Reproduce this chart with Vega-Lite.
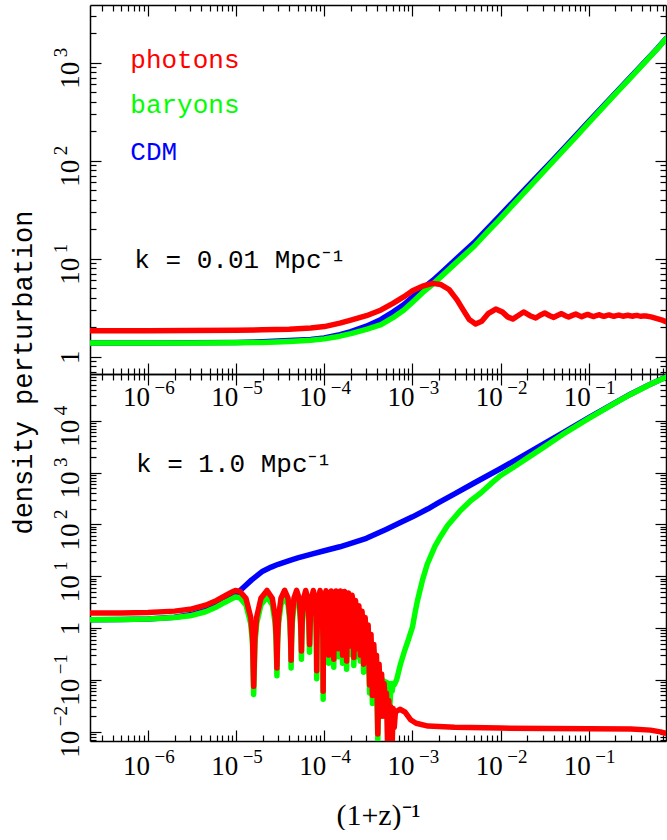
{
  "$schema": "https://vega.github.io/schema/vega-lite/v6.json",
  "padding": {"left": 9, "top": 4, "right": 0, "bottom": 0},
  "config": {"view": {"stroke": null}, "axis": {"tickCap": "butt"}},
  "datasets": {
    "a_cdm": [
      {"x":2.2e-7,"y":1.38},{"x":1e-6,"y":1.38},{"x":3e-6,"y":1.385},{"x":1e-5,"y":1.4},{"x":2e-5,"y":1.42},{"x":4e-5,"y":1.46},{"x":7e-5,"y":1.5},{"x":1e-4,"y":1.55},{"x":1.5e-4,"y":1.68},{"x":2e-4,"y":1.8},{"x":3e-4,"y":2.05},{"x":4.4e-4,"y":2.4},{"x":6e-4,"y":2.85},{"x":8e-4,"y":3.4},{"x":1e-3,"y":4.05},{"x":1.3e-3,"y":4.95},{"x":1.7e-3,"y":6.0},{"x":2.2e-3,"y":7.4},{"x":3e-3,"y":9.6},{"x":5e-3,"y":14.6},{"x":7e-3,"y":20},{"x":1e-2,"y":28},{"x":2e-2,"y":54},{"x":4e-2,"y":104},{"x":7e-2,"y":178},{"x":0.1,"y":252},{"x":0.2,"y":490},{"x":0.3,"y":720},{"x":0.45,"y":1060},{"x":0.6,"y":1400},{"x":0.75,"y":1760}
    ],
    "a_bar": [
      {"x":2.2e-7,"y":1.38},{"x":1e-6,"y":1.38},{"x":3e-6,"y":1.38},{"x":1e-5,"y":1.385},{"x":2e-5,"y":1.4},{"x":4e-5,"y":1.43},{"x":7e-5,"y":1.47},{"x":1e-4,"y":1.52},{"x":1.5e-4,"y":1.62},{"x":2e-4,"y":1.72},{"x":3e-4,"y":1.9},{"x":4.4e-4,"y":2.12},{"x":6e-4,"y":2.5},{"x":8e-4,"y":3.0},{"x":1e-3,"y":3.6},{"x":1.3e-3,"y":4.5},{"x":1.7e-3,"y":5.5},{"x":2.2e-3,"y":6.8},{"x":3e-3,"y":8.8},{"x":5e-3,"y":13.4},{"x":7e-3,"y":18.6},{"x":1e-2,"y":26},{"x":2e-2,"y":51},{"x":4e-2,"y":100},{"x":7e-2,"y":172},{"x":0.1,"y":245},{"x":0.2,"y":480},{"x":0.3,"y":710},{"x":0.45,"y":1050},{"x":0.6,"y":1390},{"x":0.75,"y":1750}
    ],
    "a_pho": [
      {"x":2.2e-7,"y":1.84},{"x":1e-6,"y":1.84},{"x":3e-6,"y":1.85},{"x":1e-5,"y":1.86},{"x":2e-5,"y":1.88},{"x":4e-5,"y":1.91},{"x":7e-5,"y":1.96},{"x":1e-4,"y":2.03},{"x":1.5e-4,"y":2.2},{"x":2e-4,"y":2.36},{"x":3e-4,"y":2.62},{"x":4.4e-4,"y":3.0},{"x":6e-4,"y":3.5},{"x":8e-4,"y":4.1},{"x":1e-3,"y":4.7},{"x":1.3e-3,"y":5.25},{"x":1.7e-3,"y":5.6},{"x":2.1e-3,"y":5.45},{"x":2.6e-3,"y":4.85},{"x":3.2e-3,"y":3.8},{"x":3.8e-3,"y":2.95},{"x":4.4e-3,"y":2.4},{"x":5.2e-3,"y":2.16},{"x":6.1e-3,"y":2.3},{"x":7.2e-3,"y":2.75},{"x":8.8e-3,"y":3.06},{"x":1.05e-2,"y":2.85},{"x":1.2e-2,"y":2.55},{"x":1.37e-2,"y":2.42},{"x":1.6e-2,"y":2.65},{"x":1.82e-2,"y":2.86},{"x":2.15e-2,"y":2.62},{"x":2.5e-2,"y":2.48},{"x":2.8e-2,"y":2.65},{"x":3.16e-2,"y":2.79},{"x":3.6e-2,"y":2.62},{"x":4.0e-2,"y":2.52},{"x":4.45e-2,"y":2.65},{"x":4.9e-2,"y":2.75},{"x":5.4e-2,"y":2.62},{"x":5.9e-2,"y":2.54},{"x":6.5e-2,"y":2.64},{"x":7.1e-2,"y":2.72},{"x":7.7e-2,"y":2.63},{"x":8.3e-2,"y":2.56},{"x":9.0e-2,"y":2.64},{"x":9.7e-2,"y":2.7},{"x":0.105,"y":2.63},{"x":0.114,"y":2.57},{"x":0.122,"y":2.63},{"x":0.13,"y":2.68},{"x":0.139,"y":2.63},{"x":0.148,"y":2.58},{"x":0.158,"y":2.63},{"x":0.169,"y":2.67},{"x":0.18,"y":2.62},{"x":0.192,"y":2.58},{"x":0.205,"y":2.62},{"x":0.219,"y":2.66},{"x":0.231,"y":2.62},{"x":0.243,"y":2.59},{"x":0.26,"y":2.62},{"x":0.277,"y":2.65},{"x":0.292,"y":2.62},{"x":0.308,"y":2.59},{"x":0.33,"y":2.62},{"x":0.351,"y":2.64},{"x":0.37,"y":2.61},{"x":0.39,"y":2.59},{"x":0.42,"y":2.61},{"x":0.445,"y":2.6},{"x":0.507,"y":2.55},{"x":0.593,"y":2.45},{"x":0.68,"y":2.36},{"x":0.75,"y":2.28}
    ],
    "b_cdm": [
      {"x":2.2e-7,"y":1.45},{"x":5e-7,"y":1.46},{"x":1e-6,"y":1.5},{"x":2e-6,"y":1.62},{"x":3e-6,"y":1.8},{"x":4.5e-6,"y":2.2},{"x":6e-6,"y":2.7},{"x":8e-6,"y":3.5},{"x":1e-5,"y":4.5},{"x":1.2e-5,"y":6.0},{"x":1.5e-5,"y":8.5},{"x":2e-5,"y":12.5},{"x":2.5e-5,"y":15},{"x":3e-5,"y":17},{"x":4e-5,"y":20},{"x":5e-5,"y":22.5},{"x":7e-5,"y":26.5},{"x":1e-4,"y":31},{"x":1.5e-4,"y":37},{"x":2e-4,"y":43},{"x":3e-4,"y":54},{"x":5e-4,"y":80},{"x":7e-4,"y":105},{"x":1e-3,"y":140},{"x":1.5e-3,"y":200},{"x":2e-3,"y":265},{"x":3e-3,"y":390},{"x":5e-3,"y":630},{"x":1e-2,"y":1200},{"x":2e-2,"y":2350},{"x":3e-2,"y":3500},{"x":5e-2,"y":5800},{"x":0.1,"y":11500},{"x":0.2,"y":22500},{"x":0.3,"y":33000},{"x":0.5,"y":51000},{"x":0.75,"y":70000}
    ],
    "b_bar": [
      {"x":2.2e-7,"y":1.45},{"x":5e-7,"y":1.46},{"x":1e-6,"y":1.49},{"x":2e-6,"y":1.59},{"x":3e-6,"y":1.72},{"x":4.5e-6,"y":2.06},{"x":6e-6,"y":2.55},{"x":7.5e-6,"y":3.15},{"x":9e-6,"y":3.7},{"x":9.8e-6,"y":3.98},{"x":1.1e-5,"y":3.83},{"x":1.29e-5,"y":2.8},{"x":1.464e-5,"y":1.2},{"x":1.534e-5,"y":0.5},{"x":1.58e-5,"y":0.052},
      {"x":1.633e-5,"y":0.5},{"x":1.712e-5,"y":1.24},{"x":1.91e-5,"y":2.81},{"x":2.24e-5,"y":3.98},{"x":2.57e-5,"y":2.81},{"x":2.768e-5,"y":1.24},{"x":2.847e-5,"y":0.5},{"x":2.9e-5,"y":0.12},
      {"x":2.952e-5,"y":0.5},{"x":3.03e-5,"y":1.24},{"x":3.225e-5,"y":2.83},{"x":3.55e-5,"y":4.0},{"x":3.875e-5,"y":2.83},{"x":4.07e-5,"y":1.24},{"x":4.148e-5,"y":0.5},{"x":4.2e-5,"y":0.17},
      {"x":4.252e-5,"y":0.52},{"x":4.33e-5,"y":1.24},{"x":4.525e-5,"y":2.83},{"x":4.85e-5,"y":4.0},{"x":5.175e-5,"y":2.83},{"x":5.37e-5,"y":1.24},{"x":5.448e-5,"y":0.54},{"x":5.5e-5,"y":0.25},
      {"x":5.552e-5,"y":0.56},{"x":5.63e-5,"y":1.24},{"x":5.825e-5,"y":2.81},{"x":6.15e-5,"y":3.98},{"x":6.475e-5,"y":2.81},{"x":6.67e-5,"y":1.25},{"x":6.748e-5,"y":0.58},{"x":6.8e-5,"y":0.34},
      {"x":6.856e-5,"y":0.6},{"x":6.94e-5,"y":1.25},{"x":7.15e-5,"y":2.81},{"x":7.5e-5,"y":3.98},{"x":7.85e-5,"y":2.81},{"x":8.06e-5,"y":1.23},{"x":8.144e-5,"y":0.5},{"x":8.2e-5,"y":0.105},
      {"x":8.26e-5,"y":0.5},{"x":8.35e-5,"y":1.23},{"x":8.575e-5,"y":2.81},{"x":8.95e-5,"y":3.98},{"x":9.325e-5,"y":2.81},{"x":9.55e-5,"y":1.23},{"x":9.64e-5,"y":0.48},{"x":9.7e-5,"y":0.042},
      {"x":9.76e-5,"y":0.48},{"x":9.85e-5,"y":1.22},{"x":1.0075e-4,"y":2.79},{"x":1.045e-4,"y":3.94},{"x":1.0825e-4,"y":2.79},{"x":1.105e-4,"y":1.22},{"x":1.114e-4,"y":0.52},{"x":1.12e-4,"y":0.21},
      {"x":1.136e-4,"y":1.2},{"x":1.16e-4,"y":2.78},{"x":1.2e-4,"y":3.9},{"x":1.24e-4,"y":2.78},{"x":1.264e-4,"y":1.2},{"x":1.28e-4,"y":0.175},
      {"x":1.296e-4,"y":1.2},{"x":1.32e-4,"y":2.78},{"x":1.36e-4,"y":3.9},{"x":1.4e-4,"y":2.78},{"x":1.424e-4,"y":1.2},{"x":1.44e-4,"y":0.28},
      {"x":1.457e-4,"y":1.19},{"x":1.4825e-4,"y":2.75},{"x":1.525e-4,"y":3.9},{"x":1.5675e-4,"y":2.75},{"x":1.593e-4,"y":1.19},{"x":1.61e-4,"y":0.21},
      {"x":1.628e-4,"y":1.16},{"x":1.655e-4,"y":2.7},{"x":1.7e-4,"y":3.8},{"x":1.745e-4,"y":2.7},{"x":1.772e-4,"y":1.16},{"x":1.79e-4,"y":0.16},
      {"x":1.835e-4,"y":2.55},{"x":1.88e-4,"y":3.55},{"x":1.925e-4,"y":2.55},{"x":1.97e-4,"y":0.31},
      {"x":2.0175e-4,"y":2.3},{"x":2.065e-4,"y":3.2},{"x":2.1125e-4,"y":2.3},{"x":2.16e-4,"y":0.19},
      {"x":2.26e-4,"y":2.55},{"x":2.36e-4,"y":0.28},{"x":2.465e-4,"y":2.0},{"x":2.57e-4,"y":0.23},{"x":2.68e-4,"y":1.6},{"x":2.79e-4,"y":0.14},{"x":2.905e-4,"y":1.2},{"x":3.02e-4,"y":0.21},{"x":3.14e-4,"y":0.86},{"x":3.26e-4,"y":0.056},{"x":3.385e-4,"y":0.56},{"x":3.51e-4,"y":0.035},{"x":3.64e-4,"y":0.36},{"x":3.77e-4,"y":0.07},{"x":3.905e-4,"y":0.23},{"x":4.04e-4,"y":0.007},{"x":4.18e-4,"y":0.15},{"x":4.32e-4,"y":0.03},{"x":4.465e-4,"y":0.11},{"x":4.61e-4,"y":0.02},{"x":4.76e-4,"y":0.095},{"x":4.91e-4,"y":0.035},{"x":5.065e-4,"y":0.09},{"x":5.22e-4,"y":0.02},{"x":5.38e-4,"y":0.085},{"x":5.54e-4,"y":0.03},{"x":5.705e-4,"y":0.085},{"x":5.87e-4,"y":0.06},{"x":6.04e-4,"y":0.085},{"x":6.21e-4,"y":0.08},
      {"x":6.6e-4,"y":0.1},{"x":7.3e-4,"y":0.2},{"x":8.2e-4,"y":0.38},{"x":9.0e-4,"y":0.6},{"x":1.0e-3,"y":1.05},{"x":1.07e-3,"y":2.0},{"x":1.14e-3,"y":3.4},{"x":1.3e-3,"y":8.5},{"x":1.47e-3,"y":17},{"x":1.8e-3,"y":38},{"x":2.1e-3,"y":60},{"x":2.5e-3,"y":95},{"x":3.5e-3,"y":185},{"x":4.6e-3,"y":290},{"x":5.9e-3,"y":400},{"x":8e-3,"y":640},{"x":1e-2,"y":880},{"x":1.4e-2,"y":1270},{"x":2e-2,"y":1900},{"x":3e-2,"y":3000},{"x":5e-2,"y":5400},{"x":0.1,"y":11100},{"x":0.2,"y":22100},{"x":0.3,"y":32600},{"x":0.5,"y":50600},{"x":0.75,"y":69500}
    ],
    "b_pho": [
      {"x":2.2e-7,"y":1.95},{"x":5e-7,"y":1.96},{"x":1e-6,"y":2.0},{"x":2e-6,"y":2.12},{"x":3e-6,"y":2.3},{"x":4.5e-6,"y":2.75},{"x":6e-6,"y":3.4},{"x":7.5e-6,"y":4.2},{"x":9e-6,"y":4.95},{"x":9.8e-6,"y":5.3},{"x":1.1e-5,"y":5.1},{"x":1.29e-5,"y":3.75},{"x":1.464e-5,"y":1.6},{"x":1.534e-5,"y":0.66},{"x":1.58e-5,"y":0.075},
      {"x":1.633e-5,"y":0.66},{"x":1.712e-5,"y":1.65},{"x":1.91e-5,"y":3.75},{"x":2.24e-5,"y":5.3},{"x":2.57e-5,"y":3.75},{"x":2.768e-5,"y":1.65},{"x":2.847e-5,"y":0.66},{"x":2.9e-5,"y":0.17},
      {"x":2.952e-5,"y":0.67},{"x":3.03e-5,"y":1.65},{"x":3.225e-5,"y":3.78},{"x":3.55e-5,"y":5.35},{"x":3.875e-5,"y":3.78},{"x":4.07e-5,"y":1.65},{"x":4.148e-5,"y":0.67},{"x":4.2e-5,"y":0.24},
      {"x":4.252e-5,"y":0.7},{"x":4.33e-5,"y":1.65},{"x":4.525e-5,"y":3.78},{"x":4.85e-5,"y":5.35},{"x":5.175e-5,"y":3.78},{"x":5.37e-5,"y":1.65},{"x":5.448e-5,"y":0.72},{"x":5.5e-5,"y":0.36},
      {"x":5.552e-5,"y":0.75},{"x":5.63e-5,"y":1.65},{"x":5.825e-5,"y":3.75},{"x":6.15e-5,"y":5.3},{"x":6.475e-5,"y":3.75},{"x":6.67e-5,"y":1.66},{"x":6.748e-5,"y":0.78},{"x":6.8e-5,"y":0.48},
      {"x":6.856e-5,"y":0.8},{"x":6.94e-5,"y":1.66},{"x":7.15e-5,"y":3.75},{"x":7.5e-5,"y":5.3},{"x":7.85e-5,"y":3.75},{"x":8.06e-5,"y":1.64},{"x":8.144e-5,"y":0.66},{"x":8.2e-5,"y":0.15},
      {"x":8.26e-5,"y":0.66},{"x":8.35e-5,"y":1.64},{"x":8.575e-5,"y":3.75},{"x":8.95e-5,"y":5.3},{"x":9.325e-5,"y":3.75},{"x":9.55e-5,"y":1.64},{"x":9.64e-5,"y":0.64},{"x":9.7e-5,"y":0.06},
      {"x":9.76e-5,"y":0.64},{"x":9.85e-5,"y":1.62},{"x":1.0075e-4,"y":3.72},{"x":1.045e-4,"y":5.25},{"x":1.0825e-4,"y":3.72},{"x":1.105e-4,"y":1.62},{"x":1.114e-4,"y":0.7},{"x":1.12e-4,"y":0.3},
      {"x":1.136e-4,"y":1.6},{"x":1.16e-4,"y":3.7},{"x":1.2e-4,"y":5.2},{"x":1.24e-4,"y":3.7},{"x":1.264e-4,"y":1.6},{"x":1.28e-4,"y":0.25},
      {"x":1.296e-4,"y":1.6},{"x":1.32e-4,"y":3.7},{"x":1.36e-4,"y":5.2},{"x":1.4e-4,"y":3.7},{"x":1.424e-4,"y":1.6},{"x":1.44e-4,"y":0.4},
      {"x":1.457e-4,"y":1.6},{"x":1.4825e-4,"y":3.65},{"x":1.525e-4,"y":5.2},{"x":1.5675e-4,"y":3.65},{"x":1.593e-4,"y":1.6},{"x":1.61e-4,"y":0.3},
      {"x":1.628e-4,"y":1.55},{"x":1.655e-4,"y":3.6},{"x":1.7e-4,"y":5.05},{"x":1.745e-4,"y":3.6},{"x":1.772e-4,"y":1.55},{"x":1.79e-4,"y":0.23},
      {"x":1.835e-4,"y":3.4},{"x":1.88e-4,"y":4.75},{"x":1.925e-4,"y":3.4},{"x":1.97e-4,"y":0.45},
      {"x":2.0175e-4,"y":3.05},{"x":2.065e-4,"y":4.3},{"x":2.1125e-4,"y":3.05},{"x":2.16e-4,"y":0.27},
      {"x":2.26e-4,"y":3.4},{"x":2.36e-4,"y":0.4},{"x":2.465e-4,"y":2.7},{"x":2.57e-4,"y":0.3},{"x":2.68e-4,"y":2.1},{"x":2.79e-4,"y":0.2},{"x":2.905e-4,"y":1.6},{"x":3.02e-4,"y":0.3},{"x":3.14e-4,"y":1.15},{"x":3.26e-4,"y":0.08},{"x":3.385e-4,"y":0.75},{"x":3.51e-4,"y":0.05},{"x":3.64e-4,"y":0.48},{"x":3.77e-4,"y":0.1},{"x":3.905e-4,"y":0.3},{"x":4.04e-4,"y":0.009},{"x":4.18e-4,"y":0.2},{"x":4.32e-4,"y":0.04},{"x":4.465e-4,"y":0.13},{"x":4.61e-4,"y":0.02},{"x":4.76e-4,"y":0.085},{"x":4.91e-4,"y":0.035},{"x":5.065e-4,"y":0.055},{"x":5.22e-4,"y":0.005},{"x":5.38e-4,"y":0.04},{"x":5.54e-4,"y":0.015},{"x":5.705e-4,"y":0.03},{"x":5.87e-4,"y":0.005},{"x":6.04e-4,"y":0.028},{"x":6.21e-4,"y":0.012},
      {"x":6.4e-4,"y":0.024},{"x":7.2e-4,"y":0.027},{"x":8.2e-4,"y":0.024},{"x":9.5e-4,"y":0.017},{"x":1.1e-3,"y":0.0145},{"x":1.5e-3,"y":0.0128},{"x":3e-3,"y":0.0121},{"x":1e-2,"y":0.0117},{"x":0.1,"y":0.0114},{"x":0.3,"y":0.0112},{"x":0.5,"y":0.0107},{"x":0.65,"y":0.0099},{"x":0.75,"y":0.0093}
    ],
    "notes_a": [
      {"x":6.3e-7,"y":877,"t":"photons","c":"photons"},
      {"x":6.3e-7,"y":305,"t":"baryons","c":"baryons"},
      {"x":6.3e-7,"y":101.6,"t":"CDM","c":"CDM"},
      {"x":7.0e-7,"y":7.98,"t":"k = 0.01 Mpc⁻¹","c":"k"}
    ],
    "notes_b": [
      {"x":7.3e-7,"y":1020,"t":"k = 1.0 Mpc⁻¹","c":"k"}
    ]
  },
  "vconcat": [
    {
      "width": 576,
      "height": 369,
      "resolve": {"axis": {"x": "independent", "y": "independent"}},
      "layer": [
        {
          "data": {"name": "a_cdm"},
          "mark": {"type": "line", "color": "#0000ff", "strokeWidth": 5.5, "strokeJoin": "round", "strokeCap": "round", "clip": true},
          "encoding": {
            "x": {"field": "x", "type": "quantitative", "scale": {"type": "log", "domain": [2.2e-7, 0.75], "nice": false},
              "axis": {"orient": "bottom", "values": [3e-7,4e-7,5e-7,6e-7,7e-7,8e-7,9e-7,1e-6,2e-6,3e-6,4e-6,5e-6,6e-6,7e-6,8e-6,9e-6,1e-5,2e-5,3e-5,4e-5,5e-5,6e-5,7e-5,8e-5,9e-5,1e-4,2e-4,3e-4,4e-4,5e-4,6e-4,7e-4,8e-4,9e-4,0.001,0.002,0.003,0.004,0.005,0.006,0.007,0.008,0.009,0.01,0.02,0.03,0.04,0.05,0.06,0.07,0.08,0.09,0.1,0.2,0.3,0.4,0.5,0.6,0.7],
                "tickSize": {"condition": {"test": "abs(log(datum.value)/LN10 - round(log(datum.value)/LN10)) < 0.001", "value": -11}, "value": -6},
                "tickColor": "#000", "tickWidth": 1.2, "domainColor": "#000", "domainWidth": 1.5, "grid": false,
                "labelExpr": "abs(log(datum.value)/LN10 - round(log(datum.value)/LN10)) < 0.001 ? '10' : ''",
                "labelFont": "Liberation Serif", "labelFontSize": 27, "labelColor": "#000", "labelPadding": 42, "labelOffset": -12, "labelBaseline": "alphabetic", "labelAlign": "center", "labelFlush": false, "labelOverlap": false, "title": null}},
            "y": {"field": "y", "type": "quantitative", "scale": {"type": "log", "domain": [0.666, 3880], "nice": false},
              "axis": {"orient": "left", "values": [0.7,0.8,0.9,1,2,3,4,5,6,7,8,9,10,20,30,40,50,60,70,80,90,100,200,300,400,500,600,700,800,900,1000,2000,3000],
                "tickSize": {"condition": {"test": "abs(log(datum.value)/LN10 - round(log(datum.value)/LN10)) < 0.001", "value": -11}, "value": -6},
                "tickColor": "#000", "tickWidth": 1.2, "domainColor": "#000", "domainWidth": 1.5, "grid": false,
                "labelExpr": "abs(log(datum.value)/LN10 - round(log(datum.value)/LN10)) < 0.001 ? (abs(datum.value - 1) < 1e-9 ? '1' : '10') : ''",
                "labelFont": "Liberation Serif", "labelFontSize": 27, "labelColor": "#000", "labelAngle": 270, "labelAlign": "center", "labelBaseline": "alphabetic", "labelPadding": 23,
                "labelOffset": {"condition": {"test": "abs(datum.value - 1) < 1e-9", "value": 0}, "value": 12},
                "labelFlush": false, "labelOverlap": false,
                "title": "density perturbation", "titleFont": "Liberation Mono", "titleFontSize": 27, "titleFontWeight": "normal", "titleColor": "#000", "titleAngle": 270, "titleX": -59, "titleY": 367, "titleAlign": "center", "titleBaseline": "alphabetic"}}
          }
        },
        {
          "data": {"name": "a_bar"},
          "mark": {"type": "line", "color": "#00ff00", "strokeWidth": 5.5, "strokeJoin": "round", "strokeCap": "round", "clip": true},
          "encoding": {
            "x": {"field": "x", "type": "quantitative", "scale": {"type": "log", "domain": [2.2e-7, 0.75], "nice": false},
              "axis": {"orient": "top", "values": [3e-7,4e-7,5e-7,6e-7,7e-7,8e-7,9e-7,1e-6,2e-6,3e-6,4e-6,5e-6,6e-6,7e-6,8e-6,9e-6,1e-5,2e-5,3e-5,4e-5,5e-5,6e-5,7e-5,8e-5,9e-5,1e-4,2e-4,3e-4,4e-4,5e-4,6e-4,7e-4,8e-4,9e-4,0.001,0.002,0.003,0.004,0.005,0.006,0.007,0.008,0.009,0.01,0.02,0.03,0.04,0.05,0.06,0.07,0.08,0.09,0.1,0.2,0.3,0.4,0.5,0.6,0.7],
                "tickSize": {"condition": {"test": "abs(log(datum.value)/LN10 - round(log(datum.value)/LN10)) < 0.001", "value": -11}, "value": -6},
                "tickColor": "#000", "tickWidth": 1.2, "domainColor": "#000", "domainWidth": 1.5, "grid": false, "labels": false, "title": null}},
            "y": {"field": "y", "type": "quantitative", "scale": {"type": "log", "domain": [0.666, 3880], "nice": false},
              "axis": {"orient": "right", "values": [0.7,0.8,0.9,1,2,3,4,5,6,7,8,9,10,20,30,40,50,60,70,80,90,100,200,300,400,500,600,700,800,900,1000,2000,3000],
                "tickSize": {"condition": {"test": "abs(log(datum.value)/LN10 - round(log(datum.value)/LN10)) < 0.001", "value": -11}, "value": -6},
                "tickColor": "#000", "tickWidth": 1.2, "domainColor": "#000", "domainWidth": 1.5, "grid": false, "labels": false, "title": null}}
          }
        },
        {
          "data": {"name": "a_pho"},
          "mark": {"type": "line", "color": "#ff0000", "strokeWidth": 5.5, "strokeJoin": "round", "strokeCap": "round", "clip": true},
          "encoding": {
            "x": {"field": "x", "type": "quantitative", "scale": {"type": "log", "domain": [2.2e-7, 0.75], "nice": false},
              "axis": {"orient": "bottom", "values": [1e-6,1e-5,1e-4,0.001,0.01,0.1], "ticks": false, "domain": false, "grid": false,
                "labelExpr": "['−7','−6','−5','−4','−3','−2','−1','','1','2','3','4'][round(log(datum.value)/LN10)+7]",
                "labelFont": "Liberation Serif", "labelFontSize": 19, "labelColor": "#000", "labelPadding": 19, "labelOffset": 6, "labelBaseline": "alphabetic", "labelAlign": "left", "labelFlush": false, "labelOverlap": false, "title": null}},
            "y": {"field": "y", "type": "quantitative", "scale": {"type": "log", "domain": [0.666, 3880], "nice": false},
              "axis": {"orient": "left", "values": [1,10,100,1000], "ticks": false, "domain": false, "grid": false,
                "labelExpr": "['−7','−6','−5','−4','−3','−2','−1','','1','2','3','4'][round(log(datum.value)/LN10)+7]",
                "labelFont": "Liberation Serif", "labelFontSize": 19, "labelColor": "#000", "labelAngle": 270, "labelAlign": "left", "labelBaseline": "alphabetic", "labelPadding": 24, "labelOffset": -6, "labelFlush": false, "labelOverlap": false, "title": null}}
          }
        },
        {
          "data": {"name": "notes_a"},
          "mark": {"type": "text", "font": "Liberation Mono", "fontSize": 26, "align": "left", "baseline": "alphabetic"},
          "encoding": {
            "x": {"field": "x", "type": "quantitative", "axis": null},
            "y": {"field": "y", "type": "quantitative", "axis": null},
            "text": {"field": "t"},
            "color": {"field": "c", "type": "nominal", "legend": null, "scale": {"domain": ["photons", "baryons", "CDM", "k"], "range": ["#ff0000", "#00ff00", "#0000ff", "#000000"]}}
          }
        }
      ]
    },
    {
      "width": 576,
      "height": 367,
      "resolve": {"axis": {"x": "independent", "y": "independent"}},
      "layer": [
        {
          "data": {"name": "b_cdm"},
          "mark": {"type": "line", "color": "#0000ff", "strokeWidth": 5.5, "strokeJoin": "round", "strokeCap": "round", "clip": true},
          "encoding": {
            "x": {"field": "x", "type": "quantitative", "scale": {"type": "log", "domain": [2.2e-7, 0.75], "nice": false},
              "axis": {"orient": "bottom", "values": [3e-7,4e-7,5e-7,6e-7,7e-7,8e-7,9e-7,1e-6,2e-6,3e-6,4e-6,5e-6,6e-6,7e-6,8e-6,9e-6,1e-5,2e-5,3e-5,4e-5,5e-5,6e-5,7e-5,8e-5,9e-5,1e-4,2e-4,3e-4,4e-4,5e-4,6e-4,7e-4,8e-4,9e-4,0.001,0.002,0.003,0.004,0.005,0.006,0.007,0.008,0.009,0.01,0.02,0.03,0.04,0.05,0.06,0.07,0.08,0.09,0.1,0.2,0.3,0.4,0.5,0.6,0.7],
                "tickSize": {"condition": {"test": "abs(log(datum.value)/LN10 - round(log(datum.value)/LN10)) < 0.001", "value": -11}, "value": -6},
                "tickColor": "#000", "tickWidth": 1.2, "domainColor": "#000", "domainWidth": 1.5, "grid": false,
                "labelExpr": "abs(log(datum.value)/LN10 - round(log(datum.value)/LN10)) < 0.001 ? '10' : ''",
                "labelFont": "Liberation Serif", "labelFontSize": 27, "labelColor": "#000", "labelPadding": 44, "labelOffset": -12, "labelBaseline": "alphabetic", "labelAlign": "center", "labelFlush": false, "labelOverlap": false,
                "title": "(1+z)⁻¹", "titleFont": "Liberation Serif", "titleFontSize": 30, "titleFontWeight": "normal", "titleColor": "#000", "titleY": 83, "titleBaseline": "alphabetic"}},
            "y": {"field": "y", "type": "quantitative", "scale": {"type": "log", "domain": [0.0066, 80000], "nice": false},
              "axis": {"orient": "left", "values": [0.007,0.008,0.009,0.01,0.02,0.03,0.04,0.05,0.06,0.07,0.08,0.09,0.1,0.2,0.3,0.4,0.5,0.6,0.7,0.8,0.9,1,2,3,4,5,6,7,8,9,10,20,30,40,50,60,70,80,90,100,200,300,400,500,600,700,800,900,1000,2000,3000,4000,5000,6000,7000,8000,9000,10000,20000,30000,40000,50000,60000,70000],
                "tickSize": {"condition": {"test": "abs(log(datum.value)/LN10 - round(log(datum.value)/LN10)) < 0.001", "value": -11}, "value": -6},
                "tickColor": "#000", "tickWidth": 1.2, "domainColor": "#000", "domainWidth": 1.5, "grid": false,
                "labelExpr": "abs(log(datum.value)/LN10 - round(log(datum.value)/LN10)) < 0.001 ? (abs(datum.value - 1) < 1e-9 ? '1' : '10') : ''",
                "labelFont": "Liberation Serif", "labelFontSize": 27, "labelColor": "#000", "labelAngle": 270, "labelAlign": "center", "labelBaseline": "alphabetic", "labelPadding": 23,
                "labelOffset": {"condition": {"test": "abs(datum.value - 1) < 1e-9", "value": 0}, "value": 12},
                "labelFlush": false, "labelOverlap": false, "title": null}}
          }
        },
        {
          "data": {"name": "b_bar"},
          "mark": {"type": "line", "color": "#00ff00", "strokeWidth": 5.5, "strokeJoin": "round", "strokeCap": "round", "clip": true},
          "encoding": {
            "x": {"field": "x", "type": "quantitative", "scale": {"type": "log", "domain": [2.2e-7, 0.75], "nice": false},
              "axis": {"orient": "top", "values": [3e-7,4e-7,5e-7,6e-7,7e-7,8e-7,9e-7,1e-6,2e-6,3e-6,4e-6,5e-6,6e-6,7e-6,8e-6,9e-6,1e-5,2e-5,3e-5,4e-5,5e-5,6e-5,7e-5,8e-5,9e-5,1e-4,2e-4,3e-4,4e-4,5e-4,6e-4,7e-4,8e-4,9e-4,0.001,0.002,0.003,0.004,0.005,0.006,0.007,0.008,0.009,0.01,0.02,0.03,0.04,0.05,0.06,0.07,0.08,0.09,0.1,0.2,0.3,0.4,0.5,0.6,0.7],
                "tickSize": {"condition": {"test": "abs(log(datum.value)/LN10 - round(log(datum.value)/LN10)) < 0.001", "value": -11}, "value": -6},
                "tickColor": "#000", "tickWidth": 1.2, "domainColor": "#000", "domainWidth": 1.5, "grid": false, "labels": false, "title": null}},
            "y": {"field": "y", "type": "quantitative", "scale": {"type": "log", "domain": [0.0066, 80000], "nice": false},
              "axis": {"orient": "right", "values": [0.007,0.008,0.009,0.01,0.02,0.03,0.04,0.05,0.06,0.07,0.08,0.09,0.1,0.2,0.3,0.4,0.5,0.6,0.7,0.8,0.9,1,2,3,4,5,6,7,8,9,10,20,30,40,50,60,70,80,90,100,200,300,400,500,600,700,800,900,1000,2000,3000,4000,5000,6000,7000,8000,9000,10000,20000,30000,40000,50000,60000,70000],
                "tickSize": {"condition": {"test": "abs(log(datum.value)/LN10 - round(log(datum.value)/LN10)) < 0.001", "value": -11}, "value": -6},
                "tickColor": "#000", "tickWidth": 1.2, "domainColor": "#000", "domainWidth": 1.5, "grid": false, "labels": false, "title": null}}
          }
        },
        {
          "data": {"name": "b_pho"},
          "mark": {"type": "line", "color": "#ff0000", "strokeWidth": 5.5, "strokeJoin": "round", "strokeCap": "round", "clip": true},
          "encoding": {
            "x": {"field": "x", "type": "quantitative", "scale": {"type": "log", "domain": [2.2e-7, 0.75], "nice": false},
              "axis": {"orient": "bottom", "values": [1e-6,1e-5,1e-4,0.001,0.01,0.1], "ticks": false, "domain": false, "grid": false,
                "labelExpr": "['−7','−6','−5','−4','−3','−2','−1','','1','2','3','4'][round(log(datum.value)/LN10)+7]",
                "labelFont": "Liberation Serif", "labelFontSize": 19, "labelColor": "#000", "labelPadding": 21, "labelOffset": 6, "labelBaseline": "alphabetic", "labelAlign": "left", "labelFlush": false, "labelOverlap": false, "title": null}},
            "y": {"field": "y", "type": "quantitative", "scale": {"type": "log", "domain": [0.0066, 80000], "nice": false},
              "axis": {"orient": "left", "values": [0.01,0.1,1,10,100,1000,10000], "ticks": false, "domain": false, "grid": false,
                "labelExpr": "['−7','−6','−5','−4','−3','−2','−1','','1','2','3','4'][round(log(datum.value)/LN10)+7]",
                "labelFont": "Liberation Serif", "labelFontSize": 19, "labelColor": "#000", "labelAngle": 270, "labelAlign": "left", "labelBaseline": "alphabetic", "labelPadding": 24, "labelOffset": -6, "labelFlush": false, "labelOverlap": false, "title": null}}
          }
        },
        {
          "data": {"name": "notes_b"},
          "mark": {"type": "text", "font": "Liberation Mono", "fontSize": 26, "align": "left", "baseline": "alphabetic"},
          "encoding": {
            "x": {"field": "x", "type": "quantitative", "axis": null},
            "y": {"field": "y", "type": "quantitative", "axis": null},
            "text": {"field": "t"},
            "color": {"field": "c", "type": "nominal", "legend": null, "scale": {"domain": ["photons", "baryons", "CDM", "k"], "range": ["#ff0000", "#00ff00", "#0000ff", "#000000"]}}
          }
        }
      ]
    }
  ],
  "spacing": 0,
  "bounds": "flush"
}
